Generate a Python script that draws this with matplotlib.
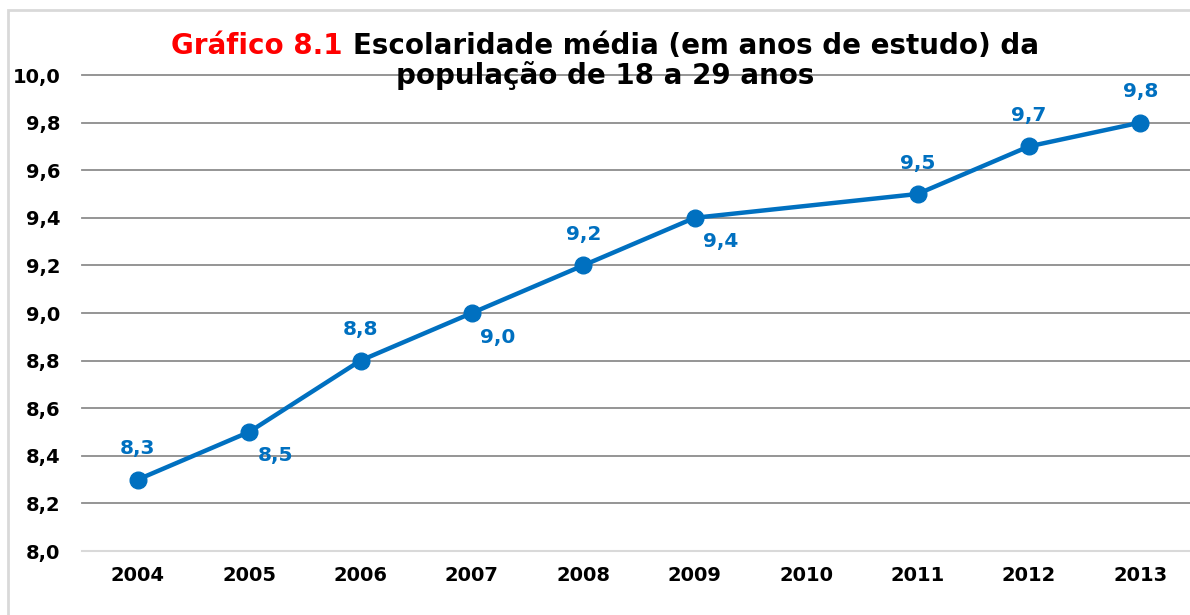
import matplotlib.pyplot as plt
import numpy as np
from matplotlib.patches import Rectangle

plt.rcParams['font.family'] = ['DejaVu Sans']

years = ['2004', '2005', '2006', '2007', '2008', '2009', '2010', '2011', '2012', '2013']
values = [8.3, 8.5, 8.8, 9.0, 9.2, 9.4, np.nan, 9.5, 9.7, 9.8]
labels = ['8,3', '8,5', '8,8', '9,0', '9,2', '9,4', '', '9,5', '9,7', '9,8']
# where each value label goes: above the point or below-right
label_pos = ['up', 'down', 'up', 'down', 'up', 'down', '', 'up', 'up', 'up']
yticks = [8.0, 8.2, 8.4, 8.6, 8.8, 9.0, 9.2, 9.4, 9.6, 9.8, 10.0]

blue = '#0070C0'

fig = plt.figure(figsize=(11.9, 6.15), dpi=100)
W, H = 1190, 615
ax = fig.add_axes([82 / W, 64 / H, (1196 - 82) / W, (551 - 75) / H])

# light frame around the chart
fig.patches.append(Rectangle((8 / W, -0.1), 1.2, (605 / H) + 0.1, transform=fig.transFigure,
                             fill=False, edgecolor='#d9d9d9', linewidth=2))

x = np.arange(len(years))
vals = np.array(values)
ok = ~np.isnan(vals)

for t in yticks:
    ax.axhline(t, color='#d9d9d9' if t == 8.0 else '#8c8c8c', linewidth=1.5 if t == 8.0 else 1.3,
               clip_on=False, zorder=1)

ax.plot(x[ok], vals[ok], color=blue, linewidth=3.2, marker='o', markersize=12,
        markeredgecolor=blue, zorder=3)

for xi, v, lab, pos in zip(x, values, labels, label_pos):
    if not lab:
        continue
    if pos == 'up':
        off = (0, 31)
    else:
        off = (26, -24)
    ax.annotate(lab, (xi, v), xytext=off, textcoords='offset pixels', ha='center', va='center',
                color=blue, fontsize=14.5, fontweight='bold')

ax.set_xlim(-0.5, len(years) - 0.5)
ax.set_ylim(8.0, 10.0)
ax.set_xticks(x)
ax.set_xticklabels(years)
ax.set_yticks(yticks)
ax.set_yticklabels([f'{t:.1f}'.replace('.', ',') for t in yticks])
ax.tick_params(axis='both', length=0, labelsize=14)
ax.tick_params(axis='y', pad=15.5)
ax.tick_params(axis='x', pad=11)
for lbl in ax.get_xticklabels() + ax.get_yticklabels():
    lbl.set_fontweight('bold')
for s in ax.spines.values():
    s.set_visible(False)
ax.patch.set_alpha(0)

# title with red prefix
fig.canvas.draw()
r = fig.canvas.get_renderer()
tsize = 20
t1 = fig.text(0, 0, 'Gráfico 8.1 ', color='#ff0000', fontsize=tsize, fontweight='bold', va='center')
t2 = fig.text(0, 0, 'Escolaridade média (em anos de estudo) da', color='black', fontsize=tsize,
              fontweight='bold', va='center')
w1 = t1.get_window_extent(r).width
w2 = t2.get_window_extent(r).width
cx = 605
start = cx - (w1 + w2) / 2
y1 = 1 - 46 / H
t1.set_position((start / W, y1))
t2.set_position(((start + w1) / W, y1))
fig.text(cx / W, 1 - 76 / H, 'população de 18 a 29 anos', color='black', fontsize=tsize,
         fontweight='bold', ha='center', va='center')

fig.savefig('out.png', dpi=100)
